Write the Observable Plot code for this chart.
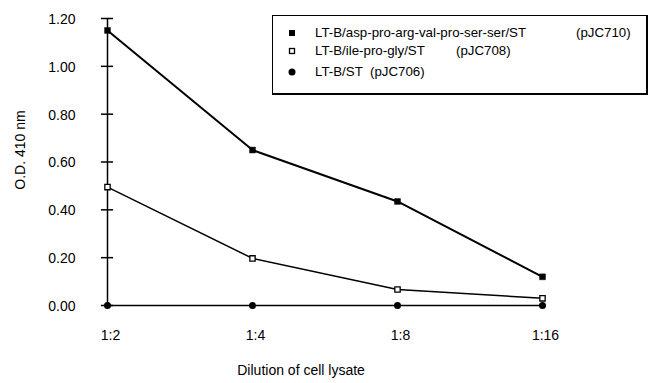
<!DOCTYPE html>
<html><head><meta charset="utf-8">
<script src="https://cdn.jsdelivr.net/npm/d3@7"></script>
<script src="https://cdn.jsdelivr.net/npm/@observablehq/plot@0.6"></script>
<style>
body{margin:0;background:#fff;font-family:"Liberation Sans",Arial,sans-serif;}
#wrap{position:relative;width:652px;height:383px;}
#legend{position:absolute;left:272px;top:15px;width:376px;height:80px;border:1.5px solid #000;border-right-width:2px;border-bottom-width:2px;box-sizing:border-box;background:#fff;font-size:13.3px;}
#legend .row{position:absolute;left:0;height:16px;line-height:16px;white-space:pre;}
#legend svg{position:absolute;left:14px;top:3px;}
#legend .lab{position:absolute;left:42px;}
</style></head><body>
<div id="wrap"><div id="chart"></div><div id="legend"></div></div>
<script>
const dilutions = ["1:2","1:4","1:8","1:16"];
const seriesNames = ["LT-B/asp-pro-arg-val-pro-ser-ser/ST","LT-B/ile-pro-gly/ST","LT-B/ST"];
const plasmids = ["(pJC710)","(pJC708)","(pJC706)"];
const s710 = [1.15, 0.65, 0.435, 0.12];
const s708 = [0.495, 0.197, 0.067, 0.03];
const s706 = [0, 0, 0, 0];
const yTicks = [0, 0.2, 0.4, 0.6, 0.8, 1.0, 1.2];

const rows = [];
[s710, s708, s706].forEach((vals, si) => vals.forEach((v, i) => rows.push({series: seriesNames[si], x: i, y: v, si})));
const bySeries = si => rows.filter(d => d.si === si);
const xIdx = dilutions.map((d, i) => i);

const chart = Plot.plot({
  width: 652, height: 383,
  marginLeft: 107, marginRight: 110, marginTop: 18, marginBottom: 78,
  style: {fontFamily: '"Liberation Sans", Arial, sans-serif', fontSize: "14px", color: "#000", background: "#fff"},
  x: {type: "linear", domain: [0, dilutions.length - 1], label: null, axis: null},
  y: {domain: [0, 1.2], label: null, axis: null},
  marks: [
    Plot.ruleX([0], {y1: -0.012, y2: 1.2, stroke: "#000", strokeWidth: 1.5}),
    Plot.ruleY(yTicks, {x1: -0.042, x2: 0.042, stroke: "#000", strokeWidth: 1.5}),
    Plot.text(yTicks, {x: 0, y: d => d, text: d => d.toFixed(2), textAnchor: "end", dx: -32, dy: 1, fontSize: 14}),
    Plot.text(xIdx, {x: d => d, y: 0, text: i => dilutions[i], dx: 3, dy: 30, fontSize: 14}),
    Plot.line(bySeries(2), {x: "x", y: "y", stroke: "#000", strokeWidth: 1.5}),
    Plot.line(bySeries(1), {x: "x", y: "y", stroke: "#000", strokeWidth: 1.5}),
    Plot.line(bySeries(0), {x: "x", y: "y", stroke: "#000", strokeWidth: 2}),
    Plot.dot(bySeries(2), {x: "x", y: "y", r: 3.5, fill: "#000", stroke: "none"}),
    Plot.dot(bySeries(1), {x: "x", y: "y", symbol: "square", r: 3, fill: "#fff", stroke: "#000", strokeWidth: 1.3}),
    Plot.dot(bySeries(0), {x: "x", y: "y", symbol: "square", r: 3.3, fill: "#000", stroke: "#000", strokeWidth: 0.5}),
    Plot.text(["O.D. 410 nm"], {x: 0, y: 0.65, dx: -87, rotate: -90, text: d => d, fontSize: 14}),
    Plot.text(["Dilution of cell lysate"], {x: 1.335, y: 0, dy: 65, text: d => d, fontSize: 14})
  ]
});
document.getElementById("chart").appendChild(chart);

const legend = document.getElementById("legend");
const tops = [9, 27, 48];
const labX = [303, 183, 97];
const icons = [
  '<svg width="10" height="10"><rect x="2" y="2" width="6" height="6" fill="#000"/></svg>',
  '<svg width="10" height="10"><rect x="2.5" y="2.5" width="5" height="5" fill="#fff" stroke="#000" stroke-width="1.3"/></svg>',
  '<svg width="10" height="10"><circle cx="5" cy="5" r="3.5" fill="#000"/></svg>'
];
seriesNames.forEach((n, i) => {
  const r = document.createElement("div");
  r.className = "row";
  r.style.top = tops[i] + "px";
  r.style.width = "370px";
  r.innerHTML = icons[i] + '<span class="lab">' + n + '</span><span style="position:absolute;left:' + labX[i] + 'px">' + plasmids[i] + '</span>';
  legend.appendChild(r);
});
</script>
</body></html>
